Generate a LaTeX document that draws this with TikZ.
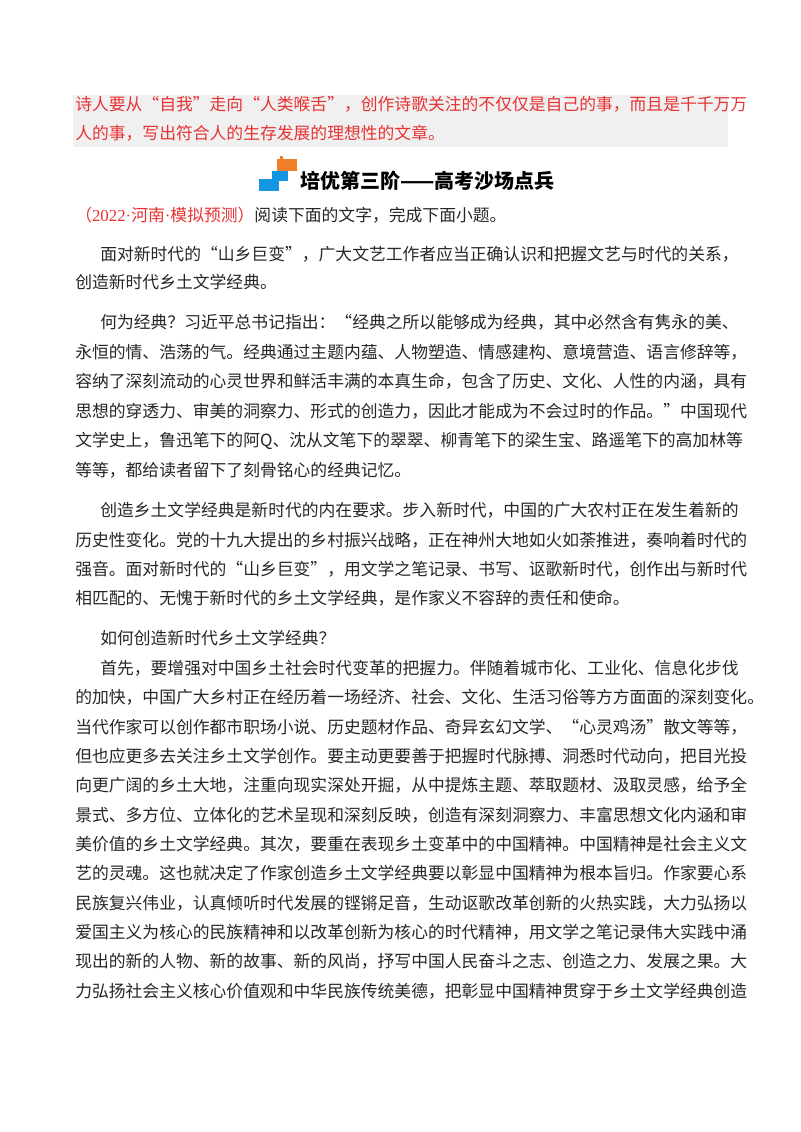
\documentclass[tikz,border=0pt]{standalone}
\usepackage{fontspec}
\setmainfont{Noto Sans CJK SC}
\newfontfamily\lat{Liberation Serif}
\XeTeXlinebreaklocale "zh"
\XeTeXlinebreakskip=0pt plus 2pt
\definecolor{hred}{RGB}{232,50,50}
\definecolor{hgray}{RGB}{240,240,240}
\definecolor{iorange}{RGB}{240,125,40}
\definecolor{iblue}{RGB}{20,150,225}
\newcommand{\jl}[1]{\hbox to 490pt{#1}}
\newcommand{\ji}[1]{\hbox to 471pt{#1}}
\begin{document}
\begin{tikzpicture}[x=0.75pt,y=-0.75pt,
 ln/.style={anchor=base west,inner sep=0pt,font=\fontsize{12.6pt}{14pt}\selectfont,text=black!85}]
\useasboundingbox (0,0) rectangle (800,1132);
\fill[white] (0,0) rectangle (800,1132);
\fill[hgray] (73,95) rectangle (728,147);
\node[ln,text=hred] (r1) at (75,110) {\jl{诗人要从“自我”走向“人类喉舌”，创作诗歌关注的不仅仅是自己的事，而且是千千万万}};
\node[ln,text=hred] (r2) at (75,139) {人的事，写出符合人的生存发展的理想性的文章。};
% icon
\fill[iorange] (277,159) rectangle (297,171);
\fill[iorange] (280,156) rectangle (283,159);
\fill[iblue] (272,171) rectangle (288,181);
\fill[iblue] (259,179) rectangle (279,191);
\node[ln,font=\fontsize{15pt}{16pt}\selectfont\bfseries,text=black] (t) at (300,188) {培优第三阶——高考沙场点兵};
\node[ln] (q) at (75,221) {\textcolor{hred}{（{\lat 2022·}河南{\lat ·}模拟预测）}阅读下面的文字，完成下面小题。};
\node[ln] at (100,260) {\ji{面对新时代的“山乡巨变”，广大文艺工作者应当正确认识和把握文艺与时代的关系，}};
\node[ln] at (75,288) {创造新时代乡土文学经典。};
\node[ln] at (100,328) {\ji{何为经典？习近平总书记指出：“经典之所以能够成为经典，其中必然含有隽永的美、}};
\node[ln] at (75,358) {\jl{永恒的情、浩荡的气。经典通过主题内蕴、人物塑造、情感建构、意境营造、语言修辞等，}};
\node[ln] at (75,387) {\jl{容纳了深刻流动的心灵世界和鲜活丰满的本真生命，包含了历史、文化、人性的内涵，具有}};
\node[ln] at (75,417) {\jl{思想的穿透力、审美的洞察力、形式的创造力，因此才能成为不会过时的作品。”中国现代}};
\node[ln] at (75,446) {\jl{文学史上，鲁迅笔下的阿Q、沈从文笔下的翠翠、柳青笔下的梁生宝、路遥笔下的高加林等}};
\node[ln] at (75,476) {等等，都给读者留下了刻骨铭心的经典记忆。};
\node[ln] at (100,516) {\ji{创造乡土文学经典是新时代的内在要求。步入新时代，中国的广大农村正在发生着新的}};
\node[ln] at (75,546) {\jl{历史性变化。党的十九大提出的乡村振兴战略，正在神州大地如火如荼推进，奏响着时代的}};
\node[ln] at (75,575) {\jl{强音。面对新时代的“山乡巨变”，用文学之笔记录、书写、讴歌新时代，创作出与新时代}};
\node[ln] at (75,604) {相匹配的、无愧于新时代的乡土文学经典，是作家义不容辞的责任和使命。};
\node[ln] at (100,644) {如何创造新时代乡土文学经典？};
\node[ln] at (100,674) {\ji{首先，要增强对中国乡土社会时代变革的把握力。伴随着城市化、工业化、信息化步伐}};
\node[ln] at (75,703) {\jl{的加快，中国广大乡村正在经历着一场经济、社会、文化、生活习俗等方方面面的深刻变化。}};
\node[ln] at (75,733) {\jl{当代作家可以创作都市职场小说、历史题材作品、奇异玄幻文学、“心灵鸡汤”散文等等，}};
\node[ln] at (75,762) {\jl{但也应更多去关注乡土文学创作。要主动更要善于把握时代脉搏、洞悉时代动向，把目光投}};
\node[ln] at (75,791) {\jl{向更广阔的乡土大地，注重向现实深处开掘，从中提炼主题、萃取题材、汲取灵感，给予全}};
\node[ln] at (75,821) {\jl{景式、多方位、立体化的艺术呈现和深刻反映，创造有深刻洞察力、丰富思想文化内涵和审}};
\node[ln] at (75,850) {\jl{美价值的乡土文学经典。其次，要重在表现乡土变革中的中国精神。中国精神是社会主义文}};
\node[ln] at (75,879) {\jl{艺的灵魂。这也就决定了作家创造乡土文学经典要以彰显中国精神为根本旨归。作家要心系}};
\node[ln] at (75,909) {\jl{民族复兴伟业，认真倾听时代发展的铿锵足音，生动讴歌改革创新的火热实践，大力弘扬以}};
\node[ln] at (75,938) {\jl{爱国主义为核心的民族精神和以改革创新为核心的时代精神，用文学之笔记录伟大实践中涌}};
\node[ln] at (75,967) {\jl{现出的新的人物、新的故事、新的风尚，抒写中国人民奋斗之志、创造之力、发展之果。大}};
\node[ln] at (75,997) {\jl{力弘扬社会主义核心价值观和中华民族传统美德，把彰显中国精神贯穿于乡土文学经典创造}};
\end{tikzpicture}
\end{document}
